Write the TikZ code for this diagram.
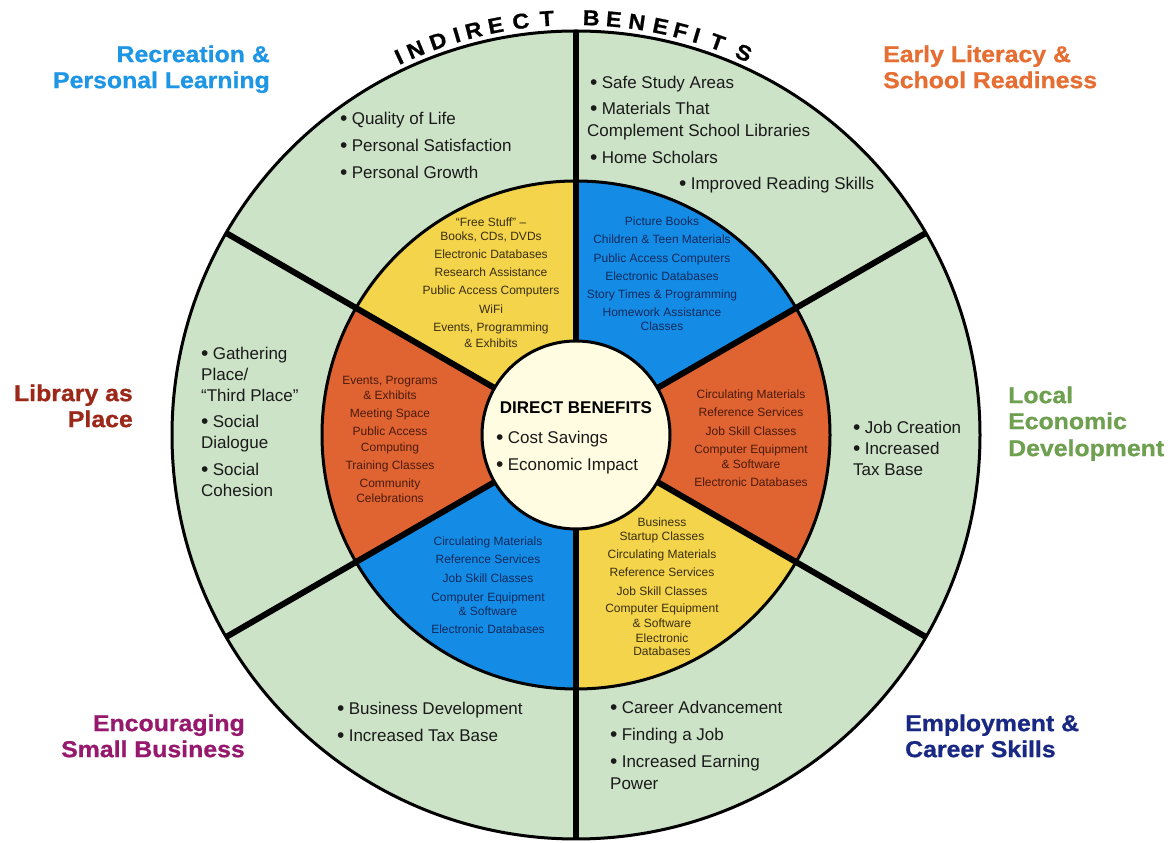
\documentclass[tikz,border=0pt]{standalone}
\usepackage{fontspec}
\setmainfont{Liberation Sans}
\newfontfamily\heavy{Liberation Sans}[FakeStretch=1.08, FakeBold=0.8]
\newcommand\bul{\raisebox{-1.2pt}{\fontsize{21}{20}\selectfont•}\hspace{0.25em}}
\definecolor{ringgreen}{HTML}{CDE3C8}
\definecolor{sy}{HTML}{F4D44B}
\definecolor{sb}{HTML}{148CE6}
\definecolor{so}{HTML}{E06432}
\definecolor{cream}{HTML}{FFFCE1}
\definecolor{ty}{HTML}{3A2E10}
\definecolor{tb}{HTML}{0F2A5C}
\definecolor{to}{HTML}{4B1A0C}
\definecolor{tk}{HTML}{1A1A1A}
\definecolor{hblue}{HTML}{1E96E6}
\definecolor{horange}{HTML}{E66E32}
\definecolor{hred}{HTML}{9B2819}
\definecolor{hgreen}{HTML}{6EA050}
\definecolor{hpurple}{HTML}{96196E}
\definecolor{hnavy}{HTML}{192882}
\begin{document}
\begin{tikzpicture}[x=1pt,y=1pt,
  lst/.style={anchor=mid west, inner sep=0pt, yshift=-4pt, text=tk, font=\fontsize{17}{20}\selectfont},
  hdr/.style={anchor=mid east, inner sep=0pt, yshift=-6.5pt, font=\heavy\bfseries\fontsize{23}{26}\selectfont},
  hdl/.style={anchor=mid west, inner sep=0pt, yshift=-6.5pt, font=\heavy\bfseries\fontsize{23}{26}\selectfont},
  inn/.style={anchor=mid, inner sep=0pt, yshift=-2pt, font=\fontsize{12}{14}\selectfont},
  arcl/.style={anchor=base, inner sep=0pt, text=black, font=\heavy\bfseries\fontsize{21.5}{24}\selectfont},
  rim/.style={line width=3pt, draw=black},
  spoke/.style={line width=6pt, draw=black}]
\useasboundingbox (0,0) rectangle (1171,843);
\fill[white] (0,0) rectangle (1171,843);
\coordinate (C) at (576,408);
% wheel
\fill[ringgreen] (C) circle[radius=404];
\foreach \a/\col in {90/sy, 30/sb, -30/so, -90/sy, 210/sb, 150/so}
  \fill[\col] (C) -- ([shift={(\a:254)}]C) arc[start angle=\a, delta angle=60, radius=254] -- cycle;
\draw[rim] (C) circle[radius=254];
\foreach \a [count=\i] in {30,90,150,210,270,330} {
  \coordinate (s\i) at ([shift={(\a:94)}]C);
  \coordinate (e\i) at ([shift={(\a:404)}]C);
  \draw[spoke] (s\i) -- (e\i);
}
\draw[rim] (C) circle[radius=404];
\fill[cream] (C) circle[radius=94];
\draw[rim] (C) circle[radius=94];
% curved title
\foreach \ch/\ang [count=\i] in {I/115.1, N/112.6, D/109.3, I/106.6, R/104.2, E/101.1, C/97.6, T/94.0, B/87.9, E/84.8, N/81.6, E/78.3, F/75.5, I/73.2, T/70.2, S/66.3}
  \node[arcl, rotate=\ang-90] (ib\i) at ([shift={(\ang:410)}]C) {\ch};
% headings
\node[hdr, text=hblue] (h1a) at (270,843-53) {Recreation \&};
\node[hdr, text=hblue] (h1b) at (270,843-79) {Personal Learning};
\node[hdl, text=horange] (h2a) at (883,843-53) {Early Literacy \&};
\node[hdl, text=horange] (h2b) at (883,843-79) {School Readiness};
\node[hdr, text=hred] (h3a) at (133,843-392) {Library as};
\node[hdr, text=hred] (h3b) at (133,843-418) {Place};
\node[hdl, text=hgreen] (h4a) at (1008,843-394) {Local};
\node[hdl, text=hgreen] (h4b) at (1008,843-420) {Economic};
\node[hdl, text=hgreen] (h4c) at (1008,843-447) {Development};
\node[hdr, text=hpurple] (h5a) at (245,843-722) {Encouraging};
\node[hdr, text=hpurple] (h5b) at (245,843-748) {Small Business};
\node[hdl, text=hnavy] (h6a) at (905,843-722) {Employment \&};
\node[hdl, text=hnavy] (h6b) at (905,843-748) {Career Skills};
% outer lists
\node[lst] (l1a) at (340,843-118) {\bul Quality of Life};
\node[lst] (l1b) at (340,843-145) {\bul Personal Satisfaction};
\node[lst] (l1c) at (340,843-172) {\bul Personal Growth};
\node[lst] (l2a) at (590,843-82) {\bul Safe Study Areas};
\node[lst] (l2b) at (590,843-108) {\bul Materials That};
\node[lst] (l2c) at (587,843-130) {Complement School Libraries};
\node[lst] (l2d) at (590,843-157) {\bul Home Scholars};
\node[lst] (l2e) at (679,843-183) {\bul Improved Reading Skills};
\node[lst] (l3a) at (201,843-353) {\bul Gathering};
\node[lst] (l3b) at (201,843-374) {Place/};
\node[lst] (l3c) at (201,843-395) {“Third Place”};
\node[lst] (l3d) at (201,843-421) {\bul Social};
\node[lst] (l3e) at (201,843-442) {Dialogue};
\node[lst] (l3f) at (201,843-469) {\bul Social};
\node[lst] (l3g) at (201,843-490) {Cohesion};
\node[lst] (l4a) at (853,843-427) {\bul Job Creation};
\node[lst] (l4b) at (853,843-448) {\bul Increased};
\node[lst] (l4c) at (853,843-469) {Tax Base};
\node[lst] (l5a) at (337,843-708) {\bul Business Development};
\node[lst] (l5b) at (337,843-735) {\bul Increased Tax Base};
\node[lst] (l6a) at (610,843-707) {\bul Career Advancement};
\node[lst] (l6b) at (610,843-734) {\bul Finding a Job};
\node[lst] (l6c) at (610,843-761) {\bul Increased Earning};
\node[lst] (l6d) at (610,843-783) {Power};
% inner: top-left yellow
\foreach \t/\y [count=\i] in {{“Free Stuff” –}/222, {Books, CDs, DVDs}/236, {Electronic Databases}/254, {Research Assistance}/272, {Public Access Computers}/290, {WiFi}/309, {Events, Programming}/327, {\& Exhibits}/343}
  \node[inn, text=ty] (y1\i) at (491,843-\y) {\t};
% inner: top-right blue
\foreach \t/\y [count=\i] in {{Picture Books}/221, {Children \& Teen Materials}/239, {Public Access Computers}/258, {Electronic Databases}/276, {Story Times \& Programming}/294, {Homework Assistance}/312, {Classes}/326}
  \node[inn, text=tb] (b1\i) at (662,843-\y) {\t};
% inner: left orange
\foreach \t/\y [count=\i] in {{Events, Programs}/380, {\& Exhibits}/395, {Meeting Space}/413, {Public Access}/431, {Computing}/447, {Training Classes}/465, {Community}/483, {Celebrations}/498}
  \node[inn, text=to] (o1\i) at (390,843-\y) {\t};
% inner: right orange
\foreach \t/\y [count=\i] in {{Circulating Materials}/394, {Reference Services}/412, {Job Skill Classes}/431, {Computer Equipment}/449, {\& Software}/464, {Electronic Databases}/482}
  \node[inn, text=to] (o2\i) at (751,843-\y) {\t};
% inner: bottom-left blue
\foreach \t/\y [count=\i] in {{Circulating Materials}/541, {Reference Services}/559, {Job Skill Classes}/578, {Computer Equipment}/597, {\& Software}/611, {Electronic Databases}/629}
  \node[inn, text=tb] (b2\i) at (488,843-\y) {\t};
% inner: bottom-right yellow
\foreach \t/\y [count=\i] in {{Business}/522, {Startup Classes}/536, {Circulating Materials}/554, {Reference Services}/572, {Job Skill Classes}/591, {Computer Equipment}/608, {\& Software}/623, {Electronic}/638, {Databases}/651}
  \node[inn, text=ty] (y2\i) at (662,843-\y) {\t};
% centre
\node[anchor=mid, inner sep=0pt, yshift=-4pt, font=\bfseries\fontsize{17}{20}\selectfont] (db) at (576,843-407) {DIRECT BENEFITS};
\node[lst] (cs) at (496,843-437) {\bul Cost Savings};
\node[lst] (ei) at (496,843-464) {\bul Economic Impact};
\end{tikzpicture}
\end{document}
